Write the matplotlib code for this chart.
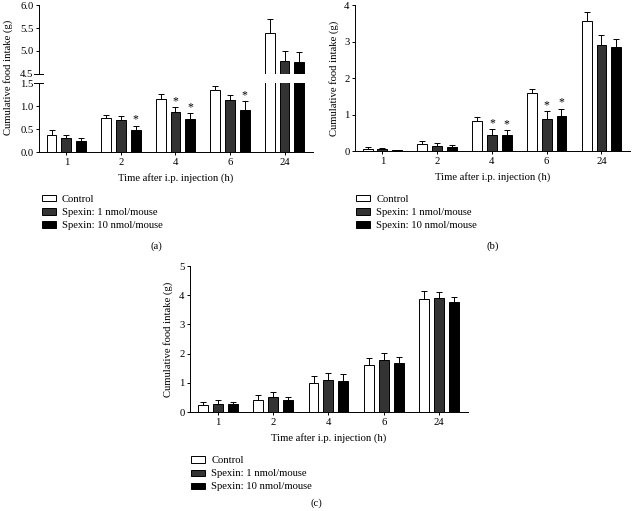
import matplotlib
matplotlib.use("Agg")
import matplotlib.pyplot as plt
from matplotlib.patches import Patch
import numpy as np

plt.rcParams["font.family"] = ["Liberation Serif", "DejaVu Serif"]
plt.rcParams["font.size"] = 7.7

times = ["1", "2", "4", "6", "24"]
series = ["Control", "Spexin: 1 nmol/mouse", "Spexin: 10 nmol/mouse"]
colors = ["white", "#333333", "black"]

# panel (a)
a_ctrl = [0.38, 0.74, 1.15, 1.34, 5.40]
a_ctrl_err = [0.09, 0.07, 0.12, 0.10, 0.29]
a_low = [0.31, 0.70, 0.88, 1.14, 4.78]
a_low_err = [0.065, 0.09, 0.09, 0.11, 0.23]
a_high = [0.23, 0.47, 0.71, 0.92, 4.75]
a_high_err = [0.07, 0.10, 0.13, 0.18, 0.22]
a_stars = [(1, 2), (2, 1), (2, 2), (3, 2)]

# panel (b)
b_ctrl = [0.06, 0.20, 0.82, 1.58, 3.56]
b_ctrl_err = [0.05, 0.08, 0.10, 0.12, 0.25]
b_low = [0.05, 0.145, 0.44, 0.87, 2.91]
b_low_err = [0.04, 0.07, 0.15, 0.22, 0.28]
b_high = [0.03, 0.12, 0.45, 0.97, 2.86]
b_high_err = [0.01, 0.04, 0.12, 0.19, 0.21]
b_stars = [(2, 1), (2, 2), (3, 1), (3, 2)]

# panel (c)
c_ctrl = [0.25, 0.42, 1.00, 1.60, 3.88]
c_ctrl_err = [0.11, 0.15, 0.24, 0.25, 0.26]
c_low = [0.27, 0.51, 1.08, 1.78, 3.90]
c_low_err = [0.14, 0.16, 0.25, 0.23, 0.20]
c_high = [0.27, 0.42, 1.07, 1.68, 3.78]
c_high_err = [0.08, 0.11, 0.23, 0.22, 0.17]

W = 0.18
OFF = 0.27


def bars(ax, vals, errs, stars=()):
    x = np.arange(len(times))
    tops = []
    for i, (v, e) in enumerate(zip(vals, errs)):
        xs = x + (i - 1) * OFF
        ax.bar(xs, v, W, color=colors[i], edgecolor="black", linewidth=0.7, zorder=2)
        ax.errorbar(xs, v, yerr=[np.zeros(len(e)), e], fmt="none", ecolor="black",
                    elinewidth=0.7, capsize=2.2, capthick=0.7, zorder=1)
        tops.append(np.array(v) + np.array(e))
    for g, s in stars:
        ax.text(g + (s - 1) * OFF, tops[s][g], "*", ha="center", va="bottom", fontsize=8.5)


def style(ax, bottom=True):
    ax.spines["top"].set_visible(False)
    ax.spines["right"].set_visible(False)
    ax.spines["left"].set_linewidth(0.7)
    ax.spines["bottom"].set_linewidth(0.7)
    ax.tick_params(width=0.7, length=2.5, pad=1.5, labelsize=7.7)
    ax.set_xlim(-0.5, 4.52)
    ax.set_xticks(np.arange(len(times)))
    if bottom:
        ax.set_xticklabels(times)
    else:
        ax.spines["bottom"].set_visible(False)
        ax.tick_params(axis="x", bottom=False, labelbottom=False)


fig = plt.figure(figsize=(6.32, 5.11), dpi=100)

# (a) with broken axis
ax_lo = fig.add_axes([0.0617, 0.7025, 0.4335, 0.135])
ax_hi = fig.add_axes([0.0617, 0.8552, 0.4335, 0.135])
for ax in (ax_lo, ax_hi):
    bars(ax, [a_ctrl, a_low, a_high], [a_ctrl_err, a_low_err, a_high_err],
         a_stars if ax is ax_lo else ())
ax_lo.set_ylim(0, 1.5)
ax_lo.set_yticks([0, 0.5, 1.0, 1.5])
ax_lo.set_yticklabels(["0.0", "0.5", "1.0", "1.5"])
ax_hi.set_ylim(4.5, 6.0)
ax_hi.set_yticks([4.5, 5.0, 5.5, 6.0])
ax_hi.set_yticklabels(["4.5", "5.0", "5.5", "6.0"])
style(ax_lo)
style(ax_hi, bottom=False)
for ax, yy in ((ax_lo, 1), (ax_hi, 0)):
    ax.plot([-0.02, 0.015], [yy, yy], transform=ax.transAxes, color="black",
            linewidth=0.7, clip_on=False)
ax_lo.set_xlabel("Time after i.p. injection (h)", labelpad=5)
fig.text(0.012, 0.848, "Cumulative food intake (g)", rotation=90, ha="center", va="center")

# (b)
ax_b = fig.add_axes([0.5617, 0.7045, 0.435, 0.2857])
bars(ax_b, [b_ctrl, b_low, b_high], [b_ctrl_err, b_low_err, b_high_err], b_stars)
ax_b.set_ylim(0, 4)
ax_b.set_yticks([0, 1, 2, 3, 4])
style(ax_b)
ax_b.set_xlabel("Time after i.p. injection (h)", labelpad=5)
ax_b.set_ylabel("Cumulative food intake (g)", labelpad=4)

# (c)
ax_c = fig.add_axes([0.3006, 0.1937, 0.44, 0.2857])
bars(ax_c, [c_ctrl, c_low, c_high], [c_ctrl_err, c_low_err, c_high_err])
ax_c.set_ylim(0, 5)
ax_c.set_yticks([0, 1, 2, 3, 4, 5])
style(ax_c)
ax_c.set_xlabel("Time after i.p. injection (h)", labelpad=5)
ax_c.set_ylabel("Cumulative food intake (g)", labelpad=4)

handles = [Patch(facecolor=c, edgecolor="black", linewidth=0.7) for c in colors]
for x0, y0 in ((0.066, 0.618), (0.563, 0.618), (0.302, 0.107)):
    fig.legend(handles, series, loc="upper left", bbox_to_anchor=(x0, y0),
               frameon=False, fontsize=7.7, handlelength=1.3, handleheight=0.5,
               handletextpad=0.6, labelspacing=0.38, borderaxespad=0, borderpad=0)

fig.text(0.247, 0.519, "(a)", ha="center", va="center")
fig.text(0.780, 0.519, "(b)", ha="center", va="center")
fig.text(0.500, 0.015, "(c)", ha="center", va="center")

fig.savefig("out.png", dpi=100)
